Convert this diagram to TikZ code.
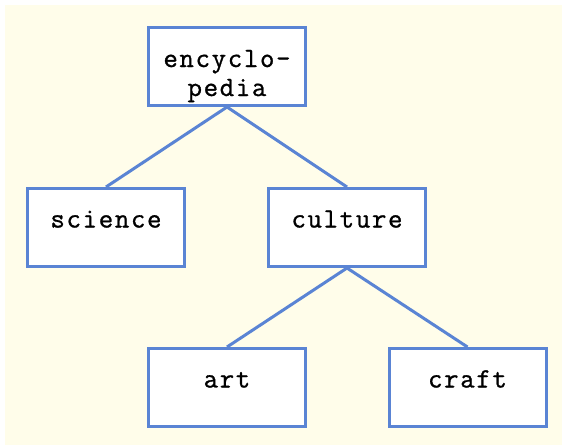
\documentclass[tikz,border=0pt]{standalone}
\usepackage{fontspec}
\usepackage{xcolor}
\setmonofont[FakeBold=1]{Latin Modern Mono}
\definecolor{paper}{HTML}{FFFDEA}
\definecolor{edge}{HTML}{5A84D4}
\usetikzlibrary{positioning}

\begin{document}
\begin{tikzpicture}[x=1pt,y=-1pt]
  \tikzset{
    box/.style={
      draw=edge, line width=3pt, fill=white,
      minimum width=157pt, minimum height=78pt, inner sep=0pt,
      text height=12pt, text depth=12pt, align=center,
      font=\ttfamily\fontsize{28}{29}\selectfont\addfontfeature{LetterSpace=6}
    },
    link/.style={draw=edge, line width=3pt},
  }
  % page and paper
  \useasboundingbox (0,0) rectangle (562,445);
  \fill[white] (0,0) rectangle (562,445);
  \fill[paper] (5,5) rectangle (562,445);

  \node[box, text height=59pt, text depth=0pt] (encyclopedia) at (227,66.5) {encyclo-\\pedia};
  \node[box] (science) at (106,227.5) {science};
  \node[box] (culture) at (347,227.5) {culture};
  \node[box] (art) at (227,387.5) {art};
  \node[box] (craft) at (467.5,387.5) {craft};

  \draw[link] (encyclopedia.south) -- (science.north);
  \draw[link] (encyclopedia.south) -- (culture.north);
  \draw[link] (culture.south) -- (art.north);
  \draw[link] (culture.south) -- (craft.north);
\end{tikzpicture}
\end{document}
